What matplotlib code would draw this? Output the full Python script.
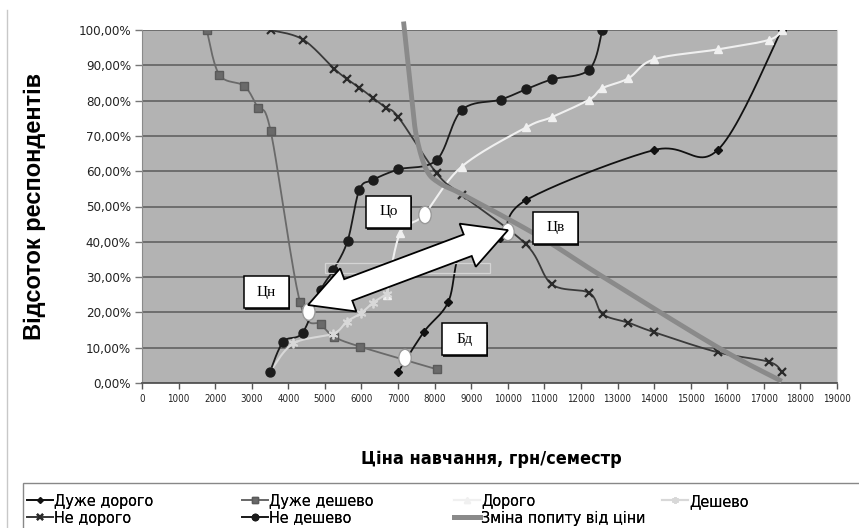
import numpy as np
import matplotlib
matplotlib.use('Agg')
import matplotlib.pyplot as plt
from matplotlib.patches import Rectangle, Ellipse, Polygon
from matplotlib.lines import Line2D
from matplotlib.font_manager import FontProperties

# ---------------- data ----------------
x_ticks = list(range(0, 19001, 1000))
y_ticks = list(range(0, 101, 10))
y_tick_labels = [f"{v},00%" for v in y_ticks]

very_exp_x = [7008, 7709, 8374, 8750, 9800, 10498, 13997, 15738, 17487]
very_exp_y = [3.2, 14.5, 23.0, 38.0, 41.0, 51.8, 66.0, 66.0, 100.0]

very_cheap_x = [1769, 2114, 2797, 3162, 3517, 4319, 4893, 5258, 5960, 8056]
very_cheap_y = [100.0, 87.3, 84.1, 78.0, 71.4, 22.9, 16.6, 13.1, 10.3, 3.9]

exp_x = [6690, 7053, 7700, 8740, 10498, 11200, 12228, 12584, 13295, 13997, 15738, 17140, 17487]
exp_y = [25.0, 42.4, 47.6, 61.3, 72.4, 75.3, 80.3, 83.5, 86.3, 91.7, 94.5, 97.2, 100.0]

cheap_x = [3499, 4137, 5230, 5596, 5978, 6324, 6690]
cheap_y = [3.2, 11.2, 14.0, 17.4, 19.7, 22.8, 25.2]

not_exp_x = [3517, 4401, 5258, 5604, 5941, 6306, 6662, 7008, 8056, 8740, 10498,
             11200, 12229, 12594, 13295, 13997, 15738, 17140, 17487]
not_exp_y = [100.0, 97.3, 89.0, 86.1, 83.7, 80.8, 78.0, 75.3, 59.4, 53.3, 39.3,
             28.0, 25.5, 19.5, 17.1, 14.4, 8.7, 6.0, 3.2]

not_cheap_x = [3499, 3864, 4393, 4885, 5230, 5622, 5941, 6306, 7008, 8056, 8740,
               9806, 10498, 11200, 12228, 12584]
not_cheap_y = [3.2, 11.7, 14.3, 26.3, 32.0, 40.3, 54.7, 57.5, 60.5, 63.2, 77.3,
               80.3, 83.2, 86.0, 88.8, 100.0]

demand_x = [7150, 7380, 7510, 7780, 8150, 8780, 10880, 12520, 15710, 17490]
demand_y = [102.4, 80.0, 69.5, 60.3, 56.5, 53.3, 41.4, 30.6, 10.3, 0.5]

points_labels = ["Цн", "Цо", "Цв", "Бд"]
points_x = [4560, 7737, 10005, 7190]
points_y = [20.2, 47.6, 42.8, 7.1]

legend_columns = [['Дуже дорого', 'Не дорого'],
                  ['Дуже дешево', 'Не дешево'],
                  ['Дорого', 'Зміна попиту від ціни'],
                  ['Дешево']]

NARROW_FAM = ['DejaVu Sans Condensed', 'DejaVu Sans']


def narrow(size, weight='normal'):
    return FontProperties(family=NARROW_FAM, stretch='condensed', size=size, weight=weight)


def smooth(xs, ys, n=24):
    """Excel-like smoothed line (Bezier with 1/6 tangents)."""
    P = np.column_stack([xs, ys]).astype(float)
    m = len(P)
    if m < 3:
        return P[:, 0], P[:, 1]
    out = []
    t = np.linspace(0, 1, n)[:, None]
    for i in range(m - 1):
        p0 = P[i - 1] if i > 0 else P[i]
        p1 = P[i]
        p2 = P[i + 1]
        p3 = P[i + 2] if i + 2 < m else P[i + 1]
        b1 = p1 + (p2 - p0) / 6.0
        b2 = p2 - (p3 - p1) / 6.0
        seg = ((1 - t) ** 3) * p1 + 3 * ((1 - t) ** 2) * t * b1 + 3 * (1 - t) * t ** 2 * b2 + t ** 3 * p2
        out.append(seg if i == 0 else seg[1:])
    out = np.vstack(out)
    return out[:, 0], out[:, 1]


fig = plt.figure(figsize=(8.59, 5.28), dpi=100)
ax = fig.add_axes([142 / 859, 1 - 383 / 528, 695 / 859, 353 / 528])
ax.set_facecolor('#b3b3b3')
ax.set_xlim(0, 19000)
ax.set_ylim(0, 100)

ax.set_xticks(x_ticks)
ax.set_xticklabels([str(v) for v in x_ticks], fontproperties=narrow(7), color='#222222')
ax.set_yticks(y_ticks)
ax.set_yticklabels(y_tick_labels, fontproperties=narrow(9.5), color='#222222')
ax.tick_params(axis='x', length=4, width=1, color='#555555', pad=4)
ax.tick_params(axis='y', length=5, width=1, color='#777777', pad=3)
ax.yaxis.grid(True, color='#6e6e6e', lw=1.4)
ax.set_axisbelow(True)
ax.spines['top'].set_visible(False)
ax.spines['right'].set_color('#d6d6d6')
ax.spines['left'].set_color('#8a8a8a')
ax.spines['bottom'].set_color('#555555')
ax.spines['bottom'].set_linewidth(1.3)

series = [
    (very_exp_x, very_exp_y, 'Дуже дорого', dict(color='#111111', marker='D', ms=4, mfc='#111111', mec='#111111', lw=1.3)),
    (very_cheap_x, very_cheap_y, 'Дуже дешево', dict(color='#6a6a6a', marker='s', ms=6, mfc='#6a6a6a', mec='#5a5a5a', lw=1.3)),
    (exp_x, exp_y, 'Дорого', dict(color='#f0f0f0', marker='^', ms=6, mfc='#f0f0f0', mec='#f0f0f0', lw=1.5)),
    (cheap_x, cheap_y, 'Дешево', dict(color='#d8d8d8', marker=(6, 2, 0), ms=7, mfc='#d8d8d8', mec='#d8d8d8', mew=1.3, lw=1.5)),
    (not_exp_x, not_exp_y, 'Не дорого', dict(color='#3a3a3a', marker='x', ms=6, mec='#2a2a2a', mew=1.6, lw=1.3)),
    (not_cheap_x, not_cheap_y, 'Не дешево', dict(color='#1c1c1c', marker='o', ms=6.5, mfc='#1c1c1c', mec='#1c1c1c', lw=1.3)),
]

handles = {}
for xs, ys, label, st in series:
    sx, sy = smooth(xs, ys)
    ax.plot(sx, sy, color=st['color'], lw=st['lw'], zorder=3)
    mk = {k: v for k, v in st.items() if k not in ('color', 'lw')}
    ax.plot(xs, ys, ls='none', zorder=4, **mk)
    handles[label] = Line2D([], [], color=st['color'], lw=st['lw'], **mk)

dx, dy = smooth(demand_x, demand_y)
ax.plot(dx, dy, color='#8a8a8a', lw=3.5, zorder=5, clip_on=False, solid_capstyle='butt')
handles['Зміна попиту від ціни'] = Line2D([], [], color='#8a8a8a', lw=3.5)

# faint rectangle
ax.add_patch(Rectangle((5003, 31.2), 4510, 2.8, fill=False, ec='#d4d4d4', lw=0.9, zorder=5))

# arrow (computed in pixel space, drawn in data space)
fig.canvas.draw()
T = ax.transData
p1 = T.transform((4538, 22.1))
p2 = T.transform((10005, 43.3))
u = (p2 - p1) / np.hypot(*(p2 - p1))
nrm = np.array([-u[1], u[0]])
hl, hw, sw = 43.0, 23.0, 11.5
pts_px = [p1, p1 + u * hl + nrm * hw, p1 + u * hl + nrm * sw, p2 - u * hl + nrm * sw,
          p2 - u * hl + nrm * hw, p2, p2 - u * hl - nrm * hw, p2 - u * hl - nrm * sw,
          p1 + u * hl - nrm * sw, p1 + u * hl - nrm * hw]
pts_data = T.inverted().transform(np.array(pts_px))

# marker circles
for lx, ly in zip(points_x, points_y):
    ax.add_patch(Ellipse((lx, ly), 340, 4.9, fc='white', ec='#9a9a9a', lw=1.0, zorder=6))

ax.add_patch(Polygon(pts_data, closed=True, fc='white', ec='black', lw=1.3, zorder=7, joinstyle='miter'))

# label boxes (x0, y0 in data units)
boxes = {"Цн": (2788, 21.2), "Цо": (6124, 43.9), "Цв": (10689, 39.4), "Бд": (8201, 7.9)}
bw, bh = 1230, 9.1
for name in points_labels:
    x0, y0 = boxes[name]
    ax.add_patch(Rectangle((x0 + 40, y0 - 0.45), bw, bh, fc='#222222', ec='none', zorder=7.5))
    ax.add_patch(Rectangle((x0, y0), bw, bh, fc='white', ec='black', lw=1.1, zorder=8))
    ax.text(x0 + bw / 2, y0 + bh / 2, name, ha='center', va='center', fontsize=11,
            family=['Liberation Serif', 'DejaVu Serif'], zorder=9)

# axis titles
fig.text(35 / 859, 1 - 206 / 528, 'Відсоток респондентів', rotation=90, ha='center', va='center',
         fontsize=17, fontweight='bold', family=['Liberation Sans', 'DejaVu Sans'])
fig.text(491 / 859, 1 - 459 / 528, 'Ціна навчання, грн/семестр', ha='center', va='center',
         fontproperties=narrow(13, 'bold'))

# outer border line
fig.add_artist(Line2D([7 / 859, 7 / 859], [0, 1 - 10 / 528], color='#c8c8c8', lw=1.0,
                      transform=fig.transFigure))

# legend: frame + four equally spaced columns
fig.add_artist(Rectangle((23 / 859, -0.05), 0.99, 1 - 483 / 528 + 0.05, fill=False,
                         ec='#888888', lw=1.0, transform=fig.transFigure))
col_x = [27, 242, 454, 662]
for cx, labels in zip(col_x, legend_columns):
    lg = fig.legend([handles[k] for k in labels], labels, loc='upper left',
                    bbox_to_anchor=(cx / 859, 1 - 494 / 528), frameon=False,
                    borderaxespad=0, borderpad=0, prop=narrow(11.5), handlelength=1.6,
                    handletextpad=0.1, labelspacing=0.1, markerscale=0.7)
    fig.add_artist(lg)

fig.savefig('out.png', dpi=100)
